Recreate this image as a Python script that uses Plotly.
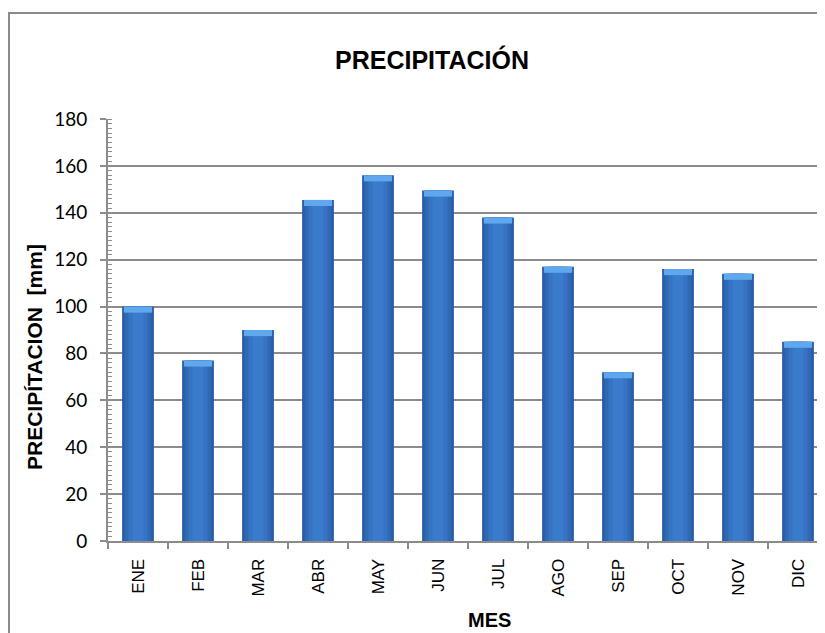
import plotly.graph_objects as go

months = ["ENE", "FEB", "MAR", "ABR", "MAY", "JUN", "JUL", "AGO", "SEP", "OCT", "NOV", "DIC"]
precip = [100, 77, 90, 145.5, 156, 149.5, 138, 117, 72, 116, 114, 85]
y_ticks = [0, 20, 40, 60, 80, 100, 120, 140, 160, 180]

title_text = "PRECIPITACIÓN"
y_title = "PRECIPÍTACION  [mm]"
x_title = "MES"

# the page body has an 8px margin, so the figure is sized/placed to compensate
W, H = 817, 625
L, R, T, B = 100, 0, 111, 92
pw, ph = W - L - R, H - T - B

fig = go.Figure()

# layered bars to imitate the cylindrical shading
layers = [(0.53, "#2A5DA6"), (0.44, "#3068B6"), (0.32, "#3673C2"), (0.18, "#3B7BCB")]
for wdt, col in layers:
    fig.add_trace(go.Bar(x=months, y=precip, width=wdt, marker=dict(color=col, line=dict(width=0)),
                         hoverinfo="skip", showlegend=False))
# light bevel cap on top of each bar
cap = 2.6
fig.add_trace(go.Bar(x=months, y=[cap] * len(precip), base=[v - cap for v in precip], width=0.47,
                     marker=dict(color="#5FA8EE", line=dict(width=0)), hoverinfo="skip", showlegend=False))

axis_col = "#8C8C8C"
fig.update_layout(
    width=W, height=H,
    margin=dict(l=L, r=R, t=T, b=B),
    barmode="overlay",
    paper_bgcolor="white", plot_bgcolor="white",
    showlegend=False,
    xaxis=dict(
        type="category", range=[-0.5, 11.45],
        showline=True, linecolor=axis_col, linewidth=2,
        ticks="outside", ticklen=6, tickcolor=axis_col, tickwidth=1.5,
        tickson="boundaries", tickangle=-90, showgrid=False,
        ticklabelstandoff=9,
        tickfont=dict(family="Liberation Sans, Arial", size=17, color="black"),
    ),
    yaxis=dict(
        range=[0, 180], tickvals=y_ticks,
        showline=True, linecolor=axis_col, linewidth=2,
        ticks="outside", ticklen=6, tickcolor=axis_col, tickwidth=1.5,
        minor=dict(ticks="inside", dtick=2, ticklen=4, tickcolor=axis_col, tickwidth=1, showgrid=False),
        showgrid=True, gridcolor=axis_col, gridwidth=1.5, zeroline=False,
        ticklabelstandoff=9,
        tickfont=dict(family="Lato, Open Sans", size=19, color="black"),
    ),
    shapes=[dict(type="rect", xref="paper", yref="paper",
                 x0=(1 - L) / pw, x1=(830 - L) / pw,
                 y0=(H - B - 650) / ph, y1=1 + (T - 5) / ph,
                 line=dict(color="#8A8A8A", width=2), fillcolor="rgba(0,0,0,0)", layer="below")],
    annotations=[
        dict(text=f"<b>{title_text}</b>", xref="paper", yref="paper",
             x=(424 - L) / pw, y=1 + (T - 52) / ph, xanchor="center", yanchor="middle",
             showarrow=False, font=dict(family="Liberation Sans, Arial", size=25, color="black")),
        dict(text=f"<b>{y_title}</b>", xref="paper", yref="paper", textangle=-90,
             x=(26 - L) / pw, y=(H - B - 349) / ph, xanchor="center", yanchor="middle",
             showarrow=False, font=dict(family="Liberation Sans, Arial", size=21, color="black")),
        dict(text=f"<b>{x_title}</b>", xref="paper", yref="paper",
             x=(482 - L) / pw, y=(H - B - 612) / ph, xanchor="center", yanchor="middle",
             showarrow=False, font=dict(family="Liberation Sans, Arial", size=20, color="black")),
    ],
)

fig.write_html("out.html")
